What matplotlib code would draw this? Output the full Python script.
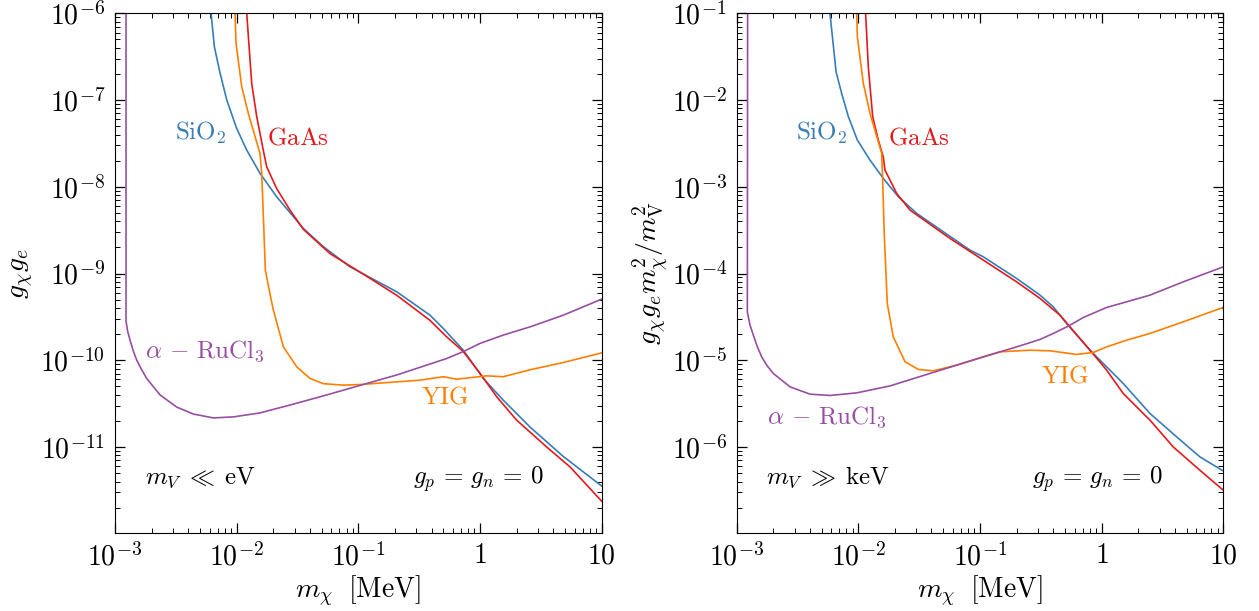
import numpy as np
import matplotlib
matplotlib.use("Agg")
import matplotlib.pyplot as plt
from matplotlib.ticker import FixedLocator, FixedFormatter, LogLocator, NullFormatter

plt.rcParams['font.family'] = 'serif'
plt.rcParams['font.serif'] = ['cmr10', 'DejaVu Serif']
plt.rcParams['mathtext.fontset'] = 'cm'
plt.rcParams['axes.formatter.use_mathtext'] = True

# colours of the four targets
c_sio2 = '#377eb8'
c_gaas = '#e41a1c'
c_yig = '#ff7f00'
c_rucl = '#984ea3'

# ---- data as log10 values ----
# left panel: g_chi g_e vs m_chi [MeV], m_V << eV
sio2_L_logm = [-2.225, -2.21, -2.183, -2.136, -2.081, -2.0, -1.917, -1.808, -1.671, -1.452,
               -1.288, -1.068, -0.685, -0.411, -0.302, -0.137, 0.027, 0.191, 0.411, 0.685, 1.0]
sio2_L_logg = [-5.6, -6.0, -6.385, -6.69, -7.0, -7.326, -7.577, -7.845, -8.115, -8.48,
               -8.69, -8.923, -9.21, -9.48, -9.633, -9.884, -10.21, -10.46, -10.77, -11.11, -11.45]

gaas_L_logm = [-1.925, -1.917, -1.876, -1.835, -1.781, -1.753, -1.671, -1.561, -1.452, -1.233,
               -0.959, -0.685, -0.411, -0.274, -0.137, 0.0, 0.137, 0.301, 0.548, 0.740, 1.0]
gaas_L_logg = [-5.6, -6.0, -6.81, -7.19, -7.577, -7.77, -8.02, -8.27, -8.49, -8.77,
               -9.007, -9.25, -9.54, -9.73, -9.90, -10.15, -10.42, -10.69, -11.0, -11.23, -11.625]

yig_L_logm = [-2.015, -2.013, -2.005, -1.958, -1.904, -1.808, -1.794, -1.775, -1.764, -1.715,
              -1.698, -1.616, -1.506, -1.397, -1.288, -1.123, -0.986, -0.494, -0.302, -0.192,
              0.055, 0.191, 0.411, 0.685, 1.0]
yig_L_logg = [-5.6, -6.0, -6.346, -6.847, -7.153, -7.615, -7.845, -8.54, -8.96, -9.31,
              -9.42, -9.845, -10.076, -10.21, -10.27, -10.287, -10.28, -10.23, -10.19, -10.218,
              -10.18, -10.19, -10.11, -10.026, -9.915]

rucl_L_logm = [-2.909, -2.909, -2.895, -2.876, -2.850, -2.821, -2.780, -2.739, -2.629, -2.492,
               -2.356, -2.191, -2.027, -1.808, -1.534, -1.260, -0.986, -0.685, -0.274, -0.137,
               0.0, 0.191, 0.411, 0.685, 1.0]
rucl_L_logg = [-5.0, -9.549, -9.67, -9.768, -9.89, -9.999, -10.11, -10.21, -10.40, -10.54,
               -10.62, -10.665, -10.653, -10.607, -10.506, -10.40, -10.29, -10.17, -9.98, -9.90,
               -9.806, -9.71, -9.615, -9.48, -9.295]

# right panel: g_chi g_e m_chi^2 / m_V^2 vs m_chi [MeV], m_V >> keV
sio2_R_logm = [-2.24, -2.232, -2.182, -2.136, -2.081, -2.007, -1.903, -1.794, -1.670, -1.519,
               -1.30, -1.081, -0.972, -0.698, -0.506, -0.397, -0.287, -0.095, 0.042, 0.178,
               0.398, 0.617, 0.808, 1.0]
sio2_R_logy = [-0.8, -1.0, -1.673, -1.923, -2.19, -2.461, -2.692, -2.903, -3.115, -3.307,
               -3.519, -3.73, -3.807, -4.057, -4.249, -4.384, -4.576, -4.884, -5.076, -5.268,
               -5.614, -5.883, -6.114, -6.276]

gaas_R_logm = [-1.945, -1.939, -1.917, -1.881, -1.835, -1.794, -1.780, -1.684, -1.574, -1.246,
               -0.972, -0.698, -0.506, -0.342, -0.26, -0.095, 0.042, 0.178, 0.398, 0.589, 0.808, 1.0]
gaas_R_logy = [-0.8, -1.0, -1.616, -2.19, -2.461, -2.654, -2.807, -3.076, -3.269, -3.595,
               -3.845, -4.096, -4.287, -4.48, -4.615, -4.884, -5.114, -5.383, -5.691, -5.999, -6.268, -6.498]

yig_R_logm = [-2.015, -2.012, -2.007, -1.958, -1.903, -1.807, -1.799, -1.786, -1.761, -1.712,
              -1.615, -1.506, -1.383, -1.19, -0.972, -0.835, -0.588, -0.424, -0.205, -0.068,
              0.042, 0.206, 0.398, 0.671, 1.0]
yig_R_logy = [-0.8, -1.0, -1.27, -1.807, -2.153, -2.615, -2.923, -3.537, -4.345, -4.73,
              -5.018, -5.106, -5.122, -5.056, -4.961, -4.903, -4.884, -4.891, -4.933, -4.91,
              -4.846, -4.768, -4.691, -4.557, -4.391]

rucl_R_logm = [-2.908, -2.911, -2.890, -2.862, -2.830, -2.793, -2.750, -2.698, -2.56, -2.396,
               -2.232, -2.012, -1.739, -1.41, -0.972, -0.698, -0.506, -0.397, -0.274, -0.150,
               0.042, 0.206, 0.398, 0.671, 1.0]
rucl_R_logy = [0.0, -4.442, -4.59, -4.71, -4.84, -4.961, -5.06, -5.152, -5.307, -5.391,
               -5.406, -5.376, -5.296, -5.152, -4.961, -4.846, -4.76, -4.691, -4.607, -4.507,
               -4.391, -4.326, -4.249, -4.096, -3.923]

xticks = [1e-3, 1e-2, 1e-1, 1, 10]
xticklabels = ['$10^{-3}$', '$10^{-2}$', '$10^{-1}$', '$1$', '$10$']
yticks_L = [1e-11, 1e-10, 1e-9, 1e-8, 1e-7, 1e-6]
yticklabels_L = ['$10^{-11}$', '$10^{-10}$', '$10^{-9}$', '$10^{-8}$', '$10^{-7}$', '$10^{-6}$']
yticks_R = [1e-6, 1e-5, 1e-4, 1e-3, 1e-2, 1e-1]
yticklabels_R = ['$10^{-6}$', '$10^{-5}$', '$10^{-4}$', '$10^{-3}$', '$10^{-2}$', '$10^{-1}$']


def p(v):
    return 10 ** np.array(v)


fig = plt.figure(figsize=(12.59, 6.11), dpi=100)
axL = fig.add_axes([0.0913, 0.1277, 0.3866, 0.8505])
axR = fig.add_axes([0.5850, 0.1277, 0.3866, 0.8505])

lw = 1.2
axL.plot(p(sio2_L_logm), p(sio2_L_logg), color=c_sio2, lw=lw)
axL.plot(p(gaas_L_logm), p(gaas_L_logg), color=c_gaas, lw=lw)
axL.plot(p(yig_L_logm), p(yig_L_logg), color=c_yig, lw=lw)
axL.plot(p(rucl_L_logm), p(rucl_L_logg), color=c_rucl, lw=lw)

axR.plot(p(sio2_R_logm), p(sio2_R_logy), color=c_sio2, lw=lw)
axR.plot(p(gaas_R_logm), p(gaas_R_logy), color=c_gaas, lw=lw)
axR.plot(p(yig_R_logm), p(yig_R_logy), color=c_yig, lw=lw)
axR.plot(p(rucl_R_logm), p(rucl_R_logy), color=c_rucl, lw=lw)

fs = 20
for ax, yt, ytl, ylim in [(axL, yticks_L, yticklabels_L, (1.02e-12, 1e-6)),
                          (axR, yticks_R, yticklabels_R, (1.02e-7, 1e-1))]:
    ax.set_xscale('log')
    ax.set_yscale('log')
    ax.set_xlim(1e-3, 10)
    ax.set_ylim(*ylim)
    ax.xaxis.set_major_locator(FixedLocator(xticks))
    ax.xaxis.set_major_formatter(FixedFormatter(xticklabels))
    ax.yaxis.set_major_locator(FixedLocator(yt))
    ax.yaxis.set_major_formatter(FixedFormatter(ytl))
    ax.xaxis.set_minor_locator(LogLocator(base=10, subs=np.arange(2, 10), numticks=50))
    ax.yaxis.set_minor_locator(LogLocator(base=10, subs=np.arange(2, 10), numticks=50))
    ax.xaxis.set_minor_formatter(NullFormatter())
    ax.yaxis.set_minor_formatter(NullFormatter())
    ax.tick_params(which='both', direction='in', top=True, right=True, labelsize=fs)
    ax.tick_params(which='major', length=7, width=0.9, pad=7)
    ax.tick_params(which='minor', length=3.5, width=0.7)
    ax.set_xlabel(r'$m_\chi\;\ [\mathrm{MeV}]$', fontsize=fs, labelpad=2)

axL.set_ylabel(r'$g_\chi g_e$', fontsize=fs)
axR.set_ylabel(r'$g_\chi g_e m_\chi^2/m_\mathrm{V}^2$', fontsize=fs)
axL.yaxis.set_label_coords(-0.162, 0.5)
axR.yaxis.set_label_coords(-0.135, 0.5)

tfs = 18
axL.text(3.1e-3, 3.5e-8, r'$\mathrm{SiO}_2$', color=c_sio2, fontsize=tfs)
axL.text(1.78e-2, 3.1e-8, r'$\mathrm{GaAs}$', color=c_gaas, fontsize=tfs)
axL.text(1.77e-3, 1.08e-10, r'$\alpha\,-\,\mathrm{RuCl}_3$', color=c_rucl, fontsize=tfs)
axL.text(0.326, 3.2e-11, r'$\mathrm{YIG}$', color=c_yig, fontsize=tfs)
axL.text(0.061, 0.094, r'$m_V\;\ll\;\mathrm{eV}$', transform=axL.transAxes, fontsize=tfs)
axL.text(0.612, 0.094, r'$g_p\,=\,g_n\,=\,0$', transform=axL.transAxes, fontsize=tfs)

axR.text(3.1e-3, 3.5e-3, r'$\mathrm{SiO}_2$', color=c_sio2, fontsize=tfs)
axR.text(1.76e-2, 3.1e-3, r'$\mathrm{GaAs}$', color=c_gaas, fontsize=tfs)
axR.text(1.77e-3, 1.87e-6, r'$\alpha\,-\,\mathrm{RuCl}_3$', color=c_rucl, fontsize=tfs)
axR.text(0.316, 5.6e-6, r'$\mathrm{YIG}$', color=c_yig, fontsize=tfs)
axR.text(0.061, 0.094, r'$m_V\;\gg\;\mathrm{keV}$', transform=axR.transAxes, fontsize=tfs)
axR.text(0.607, 0.094, r'$g_p\,=\,g_n\,=\,0$', transform=axR.transAxes, fontsize=tfs)

fig.savefig('out.png', dpi=100)
